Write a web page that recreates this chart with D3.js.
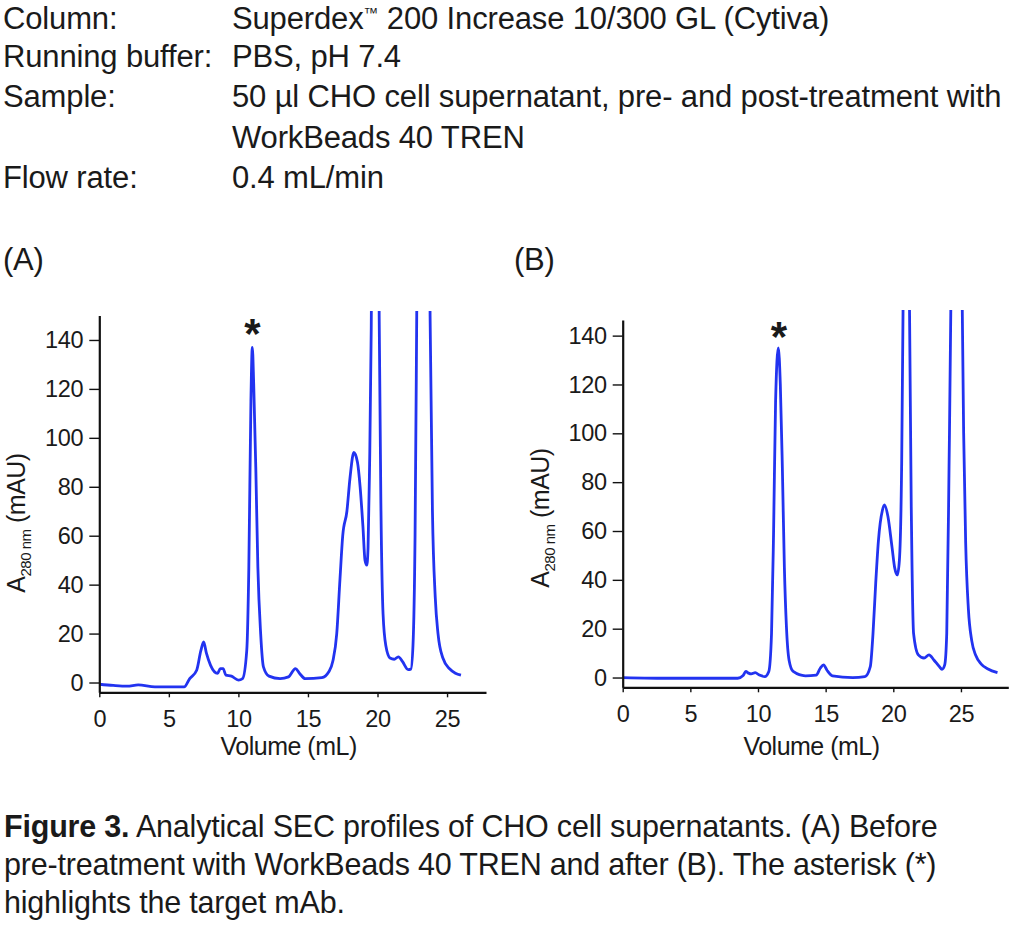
<!DOCTYPE html>
<html>
<head>
<meta charset="utf-8">
<script src="https://cdn.jsdelivr.net/npm/d3@7"></script>
<style>
  html, body { margin: 0; padding: 0; background: #fff; }
  svg { display: block; }
  text { font-family: "Liberation Sans", Arial, sans-serif; fill: #1a1a1a; }
</style>
</head>
<body>
<svg id="chart" width="1010" height="926"></svg>
<script>
// ---------- data ----------
const headerLabels = ["Column:", "Running buffer:", "Sample:", "", "Flow rate:"];
const headerValues = [
  ["Superdex", "\u2122", " 200 Increase 10/300 GL (Cytiva)"],
  ["PBS, pH 7.4"],
  ["50 \u00b5l CHO cell supernatant, pre- and post-treatment with"],
  ["WorkBeads 40 TREN"],
  ["0.4 mL/min"]
];
const panelTitles = ["(A)", "(B)"];
const xTicks = [0, 5, 10, 15, 20, 25];
const yTicks = [0, 20, 40, 60, 80, 100, 120, 140];
const xAxisTitle = "Volume (mL)";
const yAxisMain = "A";
const yAxisSub = "280 nm";
const yAxisUnit = " (mAU)";

// Panel A: before pre-treatment (volume mL, absorbance mAU)
const volumeA = [0, 1, 2, 2.8, 4, 6.1, 6.5, 7.0, 7.3, 7.5, 7.7, 8.0, 8.5, 8.7, 8.9, 9.1, 9.5, 10.0, 10.3,
  10.6, 10.75, 10.9, 11.0, 11.1, 11.25, 11.4, 11.6, 11.8, 12.2, 13, 13.6, 14.1, 14.4, 14.8, 16, 16.5, 16.8,
  17.07, 17.3, 17.5, 17.8, 18.03, 18.3, 18.56, 18.75, 18.95, 19.1, 19.23, 19.32, 19.42, 19.55, 19.85,
  20.12, 20.25, 20.4, 20.6, 20.9, 21.2, 21.5, 21.8, 22.2, 22.4, 22.55, 22.7, 22.82, 23.3, 23.78, 23.95,
  24.15, 24.35, 24.7, 25.2, 25.6, 26.0];
const absorbA = [-0.7, -1.2, -1.5, -1, -1.8, -1.8, 1.6, 5, 13, 16.6, 12, 7, 3.7, 5.7, 5.7, 3, 2.6, 1, 1.6,
  13, 47, 115, 137, 122, 88, 47, 20, 6.4, 2.6, 1.6, 2.3, 5.7, 3.7, 1.6, 2, 4.4, 9,
  20, 42, 60, 70, 84, 94, 90, 80, 64, 50, 48, 55, 85, 145, 600,
  150, 70, 28, 15, 10, 9.5, 10.5, 8.5, 5.3, 5.5, 15, 60, 150, 600, 150, 70,
  35, 20, 10, 5.5, 3.8, 3];

// Panel B: after pre-treatment
const volumeB = [0, 3.6, 6.5, 8.5, 8.9, 9.1, 9.3, 9.5, 9.8, 10.1, 10.5, 10.8, 11.0, 11.15, 11.3, 11.5,
  11.65, 11.8, 11.95, 12.1, 12.3, 12.6, 13.5, 14.3, 14.6, 14.85, 15.1, 15.5, 17, 17.9, 18.3, 18.5, 18.7,
  18.9, 19.2, 19.35, 19.6, 19.9, 20.1, 20.3, 20.45, 20.6, 20.72, 20.95, 21.2, 21.35, 21.5, 21.85, 22.27,
  22.64, 23.0, 23.4, 23.6, 23.8, 23.95, 24.12, 24.25, 24.65, 25.1, 25.2, 25.35, 25.55, 25.8, 26.1, 26.5,
  27.0, 27.7];
const absorbB = [0, -0.3, -0.3, -0.3, 0.8, 2.5, 1.8, 1.5, 2, 1, 0.4, 2.5, 18, 59, 113, 135,
  120, 86, 45, 21, 7, 2.5, 0.7, 1, 3.8, 5.2, 3, 0.7, 0, 0.4, 4.5, 18, 38.6,
  56, 68.6, 70.7, 66, 53.6, 45, 42, 48, 80, 150, 600, 150, 60, 18, 9.3, 8,
  9.3, 7.2, 4.5, 3.4, 5.2, 18, 86, 150, 600, 150, 100, 55, 28, 15, 9, 5.5,
  3.5, 2];

const targetPeakA = [11.0, 137];
const targetPeakB = [11.55, 135];
const captionBold = "Figure 3.";
const captionLines = [
  " Analytical SEC profiles of CHO cell supernatants. (A) Before",
  "pre-treatment with WorkBeads 40 TREN and after (B). The asterisk (*)",
  "highlights the target mAb."
];

// ---------- drawing ----------
const svg = d3.select("#chart");
const lineColor = "#2233f0";

// header
const header = svg.append("g").attr("font-size", 31).attr("letter-spacing", "-0.15");
const headerBase = [28.5, 67, 107, 147.5, 188];
headerLabels.forEach((t, i) => {
  header.append("text").attr("x", 3).attr("y", headerBase[i]).text(t);
  const tv = header.append("text").attr("x", 232).attr("y", headerBase[i]);
  headerValues[i].forEach((part, j) => {
    if (part === "\u2122") {
      tv.append("tspan").attr("font-size", 15).attr("dy", -11).text(part);
    } else {
      const sp = tv.append("tspan").text(part);
      if (j > 0) sp.attr("dy", 11);
    }
  });
});

function panel(cfg) {
  const g = svg.append("g");
  const x = d3.scaleLinear().domain(cfg.xDomain).range(cfg.xRange);
  const y = d3.scaleLinear().domain(cfg.yDomain).range(cfg.yRange);

  g.append("text").attr("x", cfg.titleX).attr("y", 270).attr("font-size", 31)
    .attr("letter-spacing", "-0.3").text(cfg.title);

  const clipId = "clip" + cfg.id;
  g.append("clipPath").attr("id", clipId).append("rect")
    .attr("x", cfg.xRange[0]).attr("y", cfg.clipTop)
    .attr("width", cfg.xRange[1] - cfg.xRange[0]).attr("height", cfg.yRange[0] - cfg.clipTop);

  const pts = cfg.vol.map((v, i) => [v, cfg.abs[i]]);
  const line = d3.line().x(d => x(d[0])).y(d => y(d[1])).curve(d3.curveMonotoneX);
  g.append("path").datum(pts).attr("clip-path", `url(#${clipId})`)
    .attr("fill", "none").attr("stroke", lineColor).attr("stroke-width", 2.8)
    .attr("stroke-linejoin", "round").attr("d", line);

  // axes
  const yAxis = d3.axisLeft(y).tickValues(yTicks).tickSize(10).tickPadding(6).tickSizeOuter(0);
  const gy = g.append("g").attr("transform", `translate(${cfg.xRange[0]},0)`).call(yAxis);
  const xAxis = d3.axisBottom(x).tickValues(xTicks).tickSize(5).tickPadding(13).tickSizeOuter(0);
  const gx = g.append("g").attr("transform", `translate(0,${cfg.yRange[0]})`).call(xAxis);
  [gx, gy].forEach(a => {
    a.select(".domain").attr("stroke", "#111").attr("stroke-width", 2.2);
    a.selectAll(".tick line").attr("stroke", "#111").attr("stroke-width", 1.4);
    a.selectAll(".tick text").attr("font-size", 23.5).attr("letter-spacing", "-0.3")
      .attr("fill", "#1a1a1a").attr("font-family", '"Liberation Sans", Arial, sans-serif');
  });

  // x title
  g.append("text").attr("x", (cfg.xRange[0] + cfg.xRange[1]) / 2 - 4).attr("y", 755)
    .attr("text-anchor", "middle").attr("font-size", 25).attr("letter-spacing", "-0.5").text(xAxisTitle);

  // y title
  const yt = g.append("text")
    .attr("transform", `translate(${cfg.yTitleX},${cfg.yTitleY}) rotate(-90)`)
    .attr("text-anchor", "middle").attr("font-size", 25).attr("letter-spacing", "-0.5");
  yt.append("tspan").text(yAxisMain);
  yt.append("tspan").attr("font-size", 15).attr("dy", 6).text(yAxisSub);
  yt.append("tspan").attr("dy", -6).text(yAxisUnit);

  // asterisk
  g.append("text").attr("x", x(cfg.peak[0])).attr("y", y(cfg.peak[1]) + cfg.astDy)
    .attr("text-anchor", "middle").attr("font-size", 42).attr("font-weight", "bold").text("*");
}

panel({ id: "A", title: panelTitles[0], titleX: 3, vol: volumeA, abs: absorbA,
  xDomain: [0, 27.8], xRange: [99.3, 486], yDomain: [-4, 150], yRange: [692.3, 315.5],
  clipTop: 311, peak: targetPeakA, yTitleX: 25, yTitleY: 523, astDy: 1 });
panel({ id: "B", title: panelTitles[1], titleX: 514, vol: volumeB, abs: absorbB,
  xDomain: [0, 28.5], xRange: [622.7, 1008.3], yDomain: [-4, 146.4], yRange: [687.3, 320],
  clipTop: 310, peak: targetPeakB, yTitleX: 549, yTitleY: 518, astDy: 3 });

// caption
const cap = svg.append("g").attr("font-size", 30.5).attr("letter-spacing", "-0.2");
const capBase = [837, 875, 913];
captionLines.forEach((t, i) => {
  const tx = cap.append("text").attr("x", 4).attr("y", capBase[i]);
  if (i === 0) tx.append("tspan").attr("font-weight", "bold").text(captionBold);
  tx.append("tspan").text(t);
});
</script>
</body>
</html>
